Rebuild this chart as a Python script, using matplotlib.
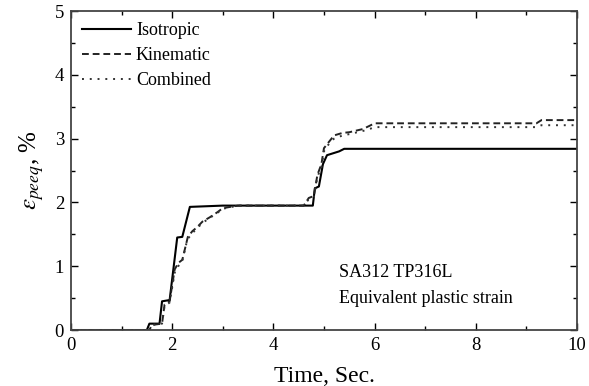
""" equivalent plastic strain vs time """
import matplotlib
matplotlib.use("Agg")
import matplotlib.pyplot as plt
from matplotlib.ticker import MultipleLocator

# data
iso_t = [0, 1.5, 1.55, 1.75, 1.8, 1.95, 2.1, 2.2, 2.35, 3.0, 4.78, 4.82,
         4.9, 4.98, 5.06, 5.1, 5.3, 5.4, 10]
iso_y = [0, 0, 0.1, 0.1, 0.45, 0.47, 1.45, 1.46, 1.93, 1.95, 1.95, 2.22,
         2.25, 2.6, 2.74, 2.75, 2.8, 2.84, 2.84]

kin_t = [0, 1.55, 1.6, 1.8, 1.85, 1.95, 2.05, 2.12, 2.2, 2.31, 2.4, 2.49,
         2.6, 2.75, 2.9, 3.0, 3.3, 4.6, 4.7, 4.8, 4.87, 4.95, 5.0, 5.1, 5.2,
         5.37, 5.5, 5.77, 5.9, 6.0, 9.2, 9.3, 10]
kin_y = [0, 0, 0.08, 0.1, 0.4, 0.45, 0.95, 1.05, 1.1, 1.46, 1.55, 1.61,
         1.7, 1.77, 1.85, 1.91, 1.95, 1.95, 2.07, 2.1, 2.43, 2.6, 2.85, 2.95,
         3.05, 3.09, 3.1, 3.15, 3.2, 3.24, 3.24, 3.29, 3.29]

comb_t = [0, 1.55, 1.6, 1.8, 1.85, 1.95, 2.05, 2.12, 2.2, 2.3, 2.4, 2.5,
          2.6, 2.75, 2.9, 3.0, 3.3, 4.6, 4.7, 4.8, 4.87, 4.95, 5.0, 5.1,
          5.2, 5.37, 5.5, 5.77, 5.9, 6.0, 9.2, 9.3, 10]
comb_y = [0, 0, 0.08, 0.1, 0.38, 0.43, 0.9, 1.0, 1.08, 1.42, 1.52, 1.6,
          1.68, 1.76, 1.84, 1.9, 1.95, 1.95, 2.05, 2.08, 2.4, 2.55, 2.8,
          2.92, 3.0, 3.05, 3.07, 3.12, 3.15, 3.18, 3.18, 3.21, 3.21]

labels = ["Isotropic", "Kinematic", "Combined"]

plt.rcParams["font.family"] = ["Liberation Serif", "DejaVu Serif"]
plt.rcParams["mathtext.fontset"] = "stix"

fig = plt.figure(figsize=(5.89, 3.86), dpi=100)
ax = fig.add_axes([0.1205, 0.145, 0.859, 0.8265])

ax.plot(iso_t, iso_y, color="black", lw=1.5, ls="-", label=labels[0])
ax.plot(kin_t, kin_y, color="#222222", lw=1.4, ls=(0, (3.5, 2)), label=labels[1])
ax.plot(comb_t, comb_y, color="#333333", lw=1.4, ls=(0, (1, 3)), label=labels[2])

ax.set_xlim(0, 10)
ax.set_ylim(0, 5)
ax.xaxis.set_major_locator(MultipleLocator(2))
ax.xaxis.set_minor_locator(MultipleLocator(1))
ax.yaxis.set_major_locator(MultipleLocator(1))
ax.yaxis.set_minor_locator(MultipleLocator(0.5))
ax.tick_params(which="both", direction="in", top=True, right=True,
               labelsize=13.5, width=1)
ax.tick_params(which="major", length=5, pad=5)
ax.tick_params(which="minor", length=3)
for sp in ax.spines.values():
    sp.set_linewidth(1.3)
    sp.set_color("#444444")

ax.set_xlabel("Time, Sec.", fontsize=17, labelpad=9)
ax.set_ylabel(r"$\varepsilon_{peeq}$, %", fontsize=18, labelpad=6)

ax.legend(loc="upper left", frameon=False, fontsize=13, handlelength=2.7,
          handletextpad=0.3, labelspacing=0.45, borderaxespad=0.3,
          borderpad=0.3)

ax.text(0.53, 0.165, "SA312 TP316L", transform=ax.transAxes, fontsize=13)
ax.text(0.53, 0.085, "Equivalent plastic strain", transform=ax.transAxes, fontsize=13)

fig.savefig("out.png", dpi=100)
